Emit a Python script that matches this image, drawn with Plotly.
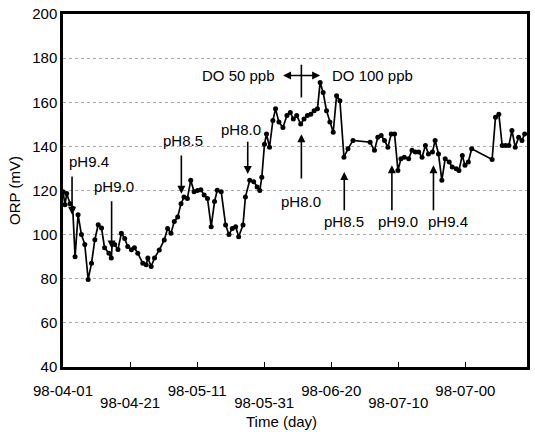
import plotly.graph_objects as go

# Days since 1998-04-01 and ORP readings (mV)
days = [0, 0.6, 1.1, 2.1, 2.9, 3.6, 4.5, 5.5, 6.5, 7.5, 8.5, 9.5, 10.5, 11.5, 12.4,
        13.7, 14.4, 14.7, 15.4, 16.4, 17.4, 18.4, 19.3, 20.4, 21.3, 22.3, 23.8, 24.8,
        25.3, 26.3, 27.3, 28.7, 30.2, 31.2, 32.2, 33.2, 34.2, 35.2, 36.1, 37.1, 38.1,
        39.1, 40.1, 41.1, 42.1, 43.1, 44.2, 45.2, 46.0, 47.2, 48.5, 49.5, 50.5, 51.5,
        52.4, 53.7, 54.4, 55.7, 56.9, 57.9, 58.7, 59.3, 60.1, 60.7, 61.6, 62.6, 63.4,
        64.4, 65.6, 66.8, 67.8, 68.7, 69.7, 70.9, 71.9, 72.9, 73.9, 74.9, 75.9, 76.7,
        77.6, 78.6, 79.6, 80.6, 81.6, 82.6, 83.8, 85.0, 86.5, 91.6, 92.9, 93.9, 94.9,
        95.9, 96.9, 97.9, 98.9, 99.9, 100.8, 101.8, 103.1, 104.1, 105.1, 106.1, 107.1,
        108.1, 109.0, 110.2, 111.0, 112.0, 113.0, 114.0, 115.2, 116.1, 117.3, 118.1,
        119.1, 119.9, 120.9, 121.9, 128.0, 129.0, 130.0, 131.0, 132.0, 133.0, 133.9,
        134.9, 135.9, 136.9, 137.7]
orp = [119.4, 113.5, 118.6, 114, 112, 90, 109, 100, 95.5, 79.7, 87, 97.7, 104.5, 103, 94,
       91.6, 89.4, 96, 95.5, 93.3, 100.6, 98.3, 94.6, 93.1, 94, 91.6, 87, 86.3,
       89.4, 85.6, 89.4, 93, 97.6, 102.8, 100.6, 106, 108, 114, 117, 116.4, 124.6,
       119.4, 120, 120.3, 118, 116.4, 103.6, 115, 120.1, 119.4, 104.4, 100, 102.8, 103.6,
       99, 104.4, 117, 124.6, 124, 121.6, 120, 126, 141, 145.6, 139.6, 151.7, 157,
       151, 148.6, 154, 155.4, 152.4, 154, 150.1, 152.4, 154, 154.6, 156.2, 157, 169,
       164.4, 156.2, 151, 146.4, 163, 160.7, 135.1, 138.9, 142.7, 141.9, 138.2, 144.1, 144.9,
       142.7, 139.6, 145.6, 145.6, 129.1, 134.4, 135.1, 134.4, 138.2, 137.4, 137.4, 135.1,
       140.4, 136.6, 137.4, 142.7, 136.6, 124.6, 134.4, 132.9, 130.6, 129.9, 129.1,
       135.9, 131.4, 132.9, 138.9, 134.1, 153.2, 154.6, 140.4, 140.4, 140.4, 147.2,
       139.6, 144.1, 142.7, 145.6]

tick_days_upper = [0, 40, 80, 120]
tick_text_upper = ["98-04-01", "98-05-11", "98-06-20", "98-07-00"]
tick_days_lower = [20, 60, 100]
tick_text_lower = ["98-04-21", "98-05-31", "98-07-10"]
all_tick_days = [0, 20, 40, 60, 80, 100, 120]

# pH change labels: (text, text_x, text_y, arrow_x, tail_y, head_y)
ph_labels = [
    ("pH9.4", 7.7, 133.0, 2.7, 127.0, 109.0),
    ("pH9.0", 15.1, 121.6, 14.5, 115.8, 93.7),
    ("pH8.5", 35.9, 142.8, 35.3, 136.5, 118.5),
    ("pH8.0", 53.0, 147.7, 55.1, 142.8, 127.5),
    ("pH8.0", 71.1, 114.9, 71.1, 124.8, 145.5),
    ("pH8.5", 83.9, 105.9, 83.9, 110.4, 128.4),
    ("pH9.0", 99.9, 105.9, 98.1, 110.4, 131.5),
    ("pH9.4", 114.7, 105.9, 110.5, 110.4, 131.5),
]
do_left_text = "DO 50 ppb"
do_right_text = "DO 100 ppb"
do_y = 172.1
do_left_x, do_right_x = 52.4, 92.4
do_arrow_x0, do_arrow_x1 = 65.2, 76.7
do_split_x, do_split_y0, do_split_y1 = 71.1, 177.0, 162.2

FONT = "Liberation Sans, Arial, sans-serif"

fig = go.Figure()
fig.add_trace(go.Scatter(
    x=days, y=orp, mode="lines+markers",
    line=dict(color="black", width=1.7),
    marker=dict(color="black", size=5),
    showlegend=False, hoverinfo="skip",
))
# helper trace so the second (label-only) x axis is drawn
fig.add_trace(go.Scatter(
    x=[all_tick_days[0], all_tick_days[-1]], y=[None, None], xaxis="x2",
    mode="lines", showlegend=False, hoverinfo="skip",
))

annotations = []
for txt, tx, ty, axx, y_tail, y_head in ph_labels:
    annotations.append(dict(x=tx, y=ty, xref="x", yref="y", text=txt, showarrow=False,
                            font=dict(family=FONT, size=15, color="black")))
    annotations.append(dict(x=axx, y=y_head, ax=axx, ay=y_tail, xref="x", yref="y",
                            axref="x", ayref="y", text="", showarrow=True,
                            arrowhead=2, arrowsize=1, arrowwidth=1.6, arrowcolor="black",
                            standoff=0, startstandoff=0))
annotations.append(dict(x=do_left_x, y=do_y, xref="x", yref="y", text=do_left_text,
                        showarrow=False, font=dict(family=FONT, size=15, color="black")))
annotations.append(dict(x=do_right_x, y=do_y, xref="x", yref="y", text=do_right_text,
                        showarrow=False, font=dict(family=FONT, size=15, color="black")))
annotations.append(dict(x=do_arrow_x1, y=do_y, ax=do_arrow_x0, ay=do_y, xref="x", yref="y",
                        axref="x", ayref="y", text="", showarrow=True, arrowside="end+start",
                        arrowhead=2, arrowsize=1, arrowwidth=1.6, arrowcolor="black",
                        standoff=0, startstandoff=0))
annotations.append(dict(x=0.47, y=-0.155, xref="paper", yref="paper", text="Time (day)",
                        showarrow=False, xanchor="center", yanchor="middle",
                        font=dict(family=FONT, size=15, color="black")))

fig.add_shape(type="line", x0=do_split_x, x1=do_split_x, y0=do_split_y0, y1=do_split_y1,
              xref="x", yref="y", line=dict(color="black", width=1.6))

fig.update_layout(
    width=535, height=432,
    margin=dict(l=63, r=5, t=11, b=65),
    paper_bgcolor="white", plot_bgcolor="white",
    font=dict(family=FONT, size=15, color="black"),
    annotations=annotations,
    xaxis=dict(
        range=[0, 138.4], tickmode="array", tickvals=all_tick_days,
        ticktext=[tick_text_upper[0], "", tick_text_upper[1], "", tick_text_upper[2], "",
                  tick_text_upper[3]],
        ticks="inside", ticklen=5, tickwidth=1, tickcolor="black",
        showline=True, linecolor="black", linewidth=2.5, mirror=True,
        showgrid=False, zeroline=False, ticklabelstandoff=8,
        tickfont=dict(family=FONT, size=15, color="black"),
    ),
    xaxis2=dict(
        range=[0, 138.4], overlaying="x", side="bottom", anchor="y",
        tickmode="array", tickvals=tick_days_lower, ticktext=tick_text_lower,
        ticks="", showline=False, showgrid=False, zeroline=False,
        ticklabelstandoff=25,
        tickfont=dict(family=FONT, size=15, color="black"),
    ),
    yaxis=dict(
        range=[40, 200], dtick=20, tick0=40,
        showline=True, linecolor="black", linewidth=2.5, mirror=True,
        showgrid=True, gridcolor="#a8a8a8", griddash="dot", gridwidth=1,
        zeroline=False, ticks="",
        title=dict(text="ORP (mV)", font=dict(family=FONT, size=15, color="black"),
                   standoff=8),
        tickfont=dict(family=FONT, size=15, color="black"),
    ),
)

fig.write_html("out.html")
